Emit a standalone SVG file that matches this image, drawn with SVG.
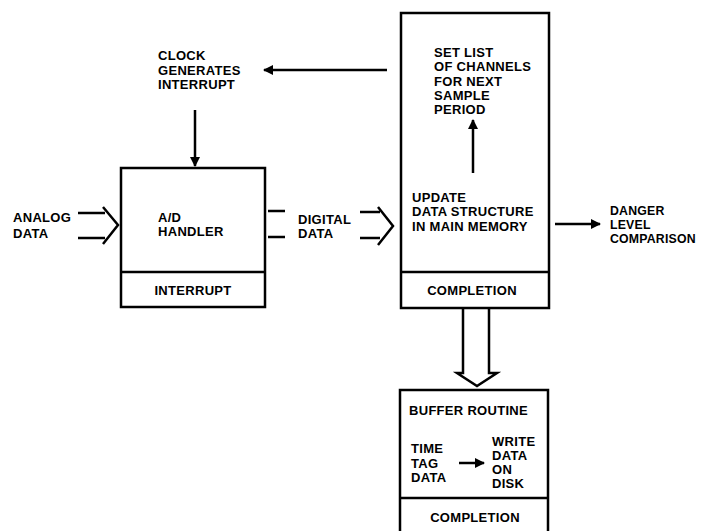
<svg xmlns="http://www.w3.org/2000/svg" width="702" height="531" viewBox="0 0 702 531">
<defs>
<style>
text{font-family:"Liberation Sans",Arial,sans-serif;font-weight:bold;font-size:13px;fill:#000;letter-spacing:0.3px}
.c{text-anchor:middle}
.s{font-size:12.3px;letter-spacing:0.2px}
.box{fill:none;stroke:#000;stroke-width:2.5}
.ln{fill:none;stroke:#000;stroke-width:2.5}
.ar{fill:none;stroke:#000;stroke-width:2.5;marker-end:url(#ah)}
</style>
<marker id="ah" viewBox="0 0 10 10" refX="9" refY="5" markerWidth="4.8" markerHeight="4" orient="auto" markerUnits="strokeWidth">
<path d="M0,0 L10,5 L0,10 Z" fill="#000"/>
</marker>
</defs>
<rect width="702" height="531" fill="#fff"/>
<g id="analog-data">
<text x="13" y="222">ANALOG</text>
<text x="13" y="238">DATA</text>
</g>
<g id="clock">
<text x="158" y="60">CLOCK</text>
<text x="158" y="75">GENERATES</text>
<text x="158" y="89">INTERRUPT</text>
</g>
<g id="ad-handler">
<rect class="box" x="121" y="168" width="144" height="139"/>
<line class="ln" x1="121" y1="272" x2="265" y2="272"/>
<text x="158" y="222">A/D</text>
<text x="158" y="236">HANDLER</text>
<text class="c" x="193" y="295">INTERRUPT</text>
</g>
<g id="digital-data">
<text x="298" y="224">DIGITAL</text>
<text x="298" y="238">DATA</text>
</g>
<g id="update">
<rect class="box" x="401" y="13" width="148" height="295"/>
<line class="ln" x1="401" y1="272" x2="549" y2="272"/>
<text x="434" y="57">SET LIST</text>
<text x="434" y="71">OF CHANNELS</text>
<text x="434" y="86">FOR NEXT</text>
<text x="434" y="100">SAMPLE</text>
<text x="434" y="114">PERIOD</text>
<text x="412" y="202">UPDATE</text>
<text x="412" y="216">DATA STRUCTURE</text>
<text x="412" y="231">IN MAIN MEMORY</text>
<text class="c" x="472" y="295">COMPLETION</text>
</g>
<g id="danger">
<text class="s" x="610" y="215">DANGER</text>
<text class="s" x="610" y="229">LEVEL</text>
<text class="s" x="610" y="243">COMPARISON</text>
</g>
<g id="buffer">
<path class="box" d="M400,531 L400,390 L548,390 L548,531"/>
<line class="ln" x1="400" y1="498" x2="548" y2="498"/>
<text x="409" y="415">BUFFER ROUTINE</text>
<text x="411" y="453">TIME</text>
<text x="411" y="468">TAG</text>
<text x="411" y="482">DATA</text>
<text x="492" y="446">WRITE</text>
<text x="492" y="460">DATA</text>
<text x="492" y="474">ON</text>
<text x="492" y="488">DISK</text>
<text class="c" x="475" y="522">COMPLETION</text>
</g>
<g id="connectors">
<path class="ln" d="M78,213 H105 M78,238 H105 M103,207 L118,225 L103,244"/>
<path class="ln" d="M268,211 H285 M268,237 H285"/>
<path class="ln" d="M360,212 H380 M360,238 H380 M378,207 L393,226 L378,245"/>
<line class="ar" x1="387" y1="70" x2="264" y2="70"/>
<line class="ar" x1="195" y1="110" x2="195" y2="166"/>
<line class="ar" x1="473" y1="173" x2="473" y2="120"/>
<line class="ar" x1="555" y1="224" x2="600" y2="224"/>
<line class="ar" x1="459" y1="463" x2="484" y2="463"/>
<path class="ln" d="M463,308 V373 H457 L477,386 L497,373 H489 V308" stroke-linejoin="miter"/>
</g>
</svg>
